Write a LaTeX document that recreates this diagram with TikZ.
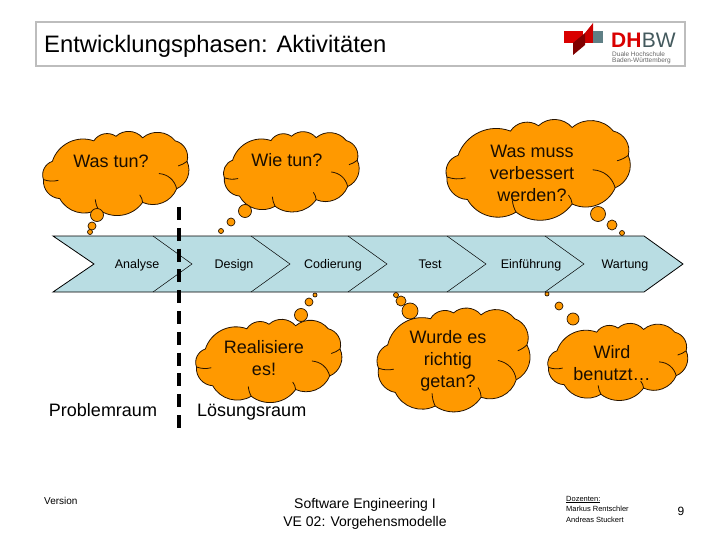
\documentclass[tikz,border=0pt]{standalone}
\usepackage{fontspec}
\setmainfont{Liberation Sans}
\definecolor{cloudfill}{HTML}{FF9900}
\definecolor{bandfill}{HTML}{B9DDE3}
\definecolor{framegray}{HTML}{BDBDBD}
\definecolor{logogray}{HTML}{5F7F85}
\newcommand{\thoughtcloud}[4]{%
    % x, y, width, height in pixels
    \begin{scope}[shift={(#1,#2)},x=#3pt/100,y=-#4pt/100]
        \draw[cloudline, fill=cloudfill]
            (7,36) to[bulge] (35,9) to[bulge] (50,3) to[bulge] (68,5) to[bulge] (90,9)
            to[bulge] (98,36) to[bulge] (91,72) to[bulge] (68,90) to[bulge] (38,99)
            to[bulge] (12,85) to[bulge] (1,60) to[bulge] cycle;
        \draw[cloudline] (1,60) to[bend right=15] (11,61);
        \draw[cloudline] (98,36) to[bend left=10] (92,42);
        \draw[cloudline] (79,52) to[bend left=35] (91,72);
        \draw[cloudline] (68,90) to[bend right=15] (66,80);
        \draw[cloudline] (38,99) to[bend left=10] (36,86);
    \end{scope}}
\begin{document}
\begin{tikzpicture}[
        x=1pt, y=-1pt,
        cloudline/.style={draw=black!85!orange, line width=0.8pt},
        bulge/.style={bend left=46},
        bubble/.style={circle, draw=black!85!orange, line width=0.7pt, fill=cloudfill, inner sep=0pt, minimum size=#1},
        cloudtext/.style={align=center, font=\fontsize{18}{22}\selectfont, text=black!90!orange},
        phase/.style={anchor=base, font=\fontsize{12.5}{14}\selectfont},
        plain/.style={anchor=base, inner sep=0pt, font=\fontsize{18}{20}\selectfont}
    ]
    \useasboundingbox (0,0) rectangle (720,540);
    \fill[white] (0,0) rectangle (720,540);

    % title frame and logo
    \draw[framegray, line width=1.6pt] (36,22) rectangle (685,66);
    \node[anchor=west, inner sep=0pt, font=\fontsize{23.8}{28}\selectfont] (title) at (44,46) {Entwicklungsphasen: Aktivitäten};
    \fill[red!85!black] (564,31) rectangle (583,43);
    \fill[red!80!black] (585,33) -- (593,23) -- (593,43) -- (585,43) -- cycle;
    \fill[logogray] (593,31) rectangle (603,43);
    \fill[red!50!black] (573,43) -- (573,55) -- (585,45) -- (585,33) -- (573,43) -- cycle;
    \node[anchor=west, inner sep=0pt, font=\fontsize{21}{22}\selectfont\bfseries, text=red!85!black] (logod) at (611,40) {DH};
    \node[anchor=west, inner sep=0pt, font=\fontsize{21}{22}\selectfont, text=logogray!70!black] (logob) at (logod.east) {BW};
    \node[anchor=west, inner sep=0pt, font=\fontsize{6.5}{7}\selectfont, text=black!60] (logoa) at (612,54) {Duale Hochschule};
    \node[anchor=west, inner sep=0pt, font=\fontsize{6.5}{7}\selectfont, text=black!60] (logoc) at (612,61) {Baden-Württemberg};

    % process band
    \fill[bandfill] (53,236) -- (644,236) -- (683,264) -- (644,292) -- (53,292) -- (94,264) -- cycle;
    \draw[line width=0.8pt] (94,264) -- (53,236) -- (644,236) -- (683,264) -- (644,292) -- (53,292) -- cycle;
    \foreach \i in {153,251,348,447,545} {
        \draw[line width=0.5pt] (\i,236) -- ++(39,28) -- ++(-39,28);
    }
    \node[phase] (analyse) at (137,268) {Analyse};
    \node[phase] (design) at (234,268) {Design};
    \node[phase] (codierung) at (333,268) {Codierung};
    \node[phase] (test) at (430,268) {Test};
    \node[phase] (einfuehrung) at (531,268) {Einführung};
    \node[phase] (wartung) at (625,268) {Wartung};

    % divider
    \coordinate (divtop) at (179,207);
    \coordinate (divbottom) at (179,428);
    \draw[line width=3.8pt, dash pattern=on 13pt off 7.8pt] (divtop) -- (divbottom);

    % clouds
    \thoughtcloud{42}{134}{148}{76}
    \thoughtcloud{223}{134}{137}{73}
    \thoughtcloud{445}{123}{187}{90}
    \thoughtcloud{195}{322}{148}{75}
    \thoughtcloud{377}{310}{153}{97}
    \thoughtcloud{547}{326}{142}{69}
    \node[cloudtext] (wastun) at (111,161) {Was tun?};
    \node[cloudtext] (wietun) at (287,160) {Wie tun?};
    \node[cloudtext] (wasmuss) at (532,173) {Was muss\\verbessert\\werden?};
    \node[cloudtext] (realisiere) at (264,358) {Realisiere\\es!};
    \node[cloudtext] (wurde) at (448,361) {Wurde es\\richtig\\getan?};
    \node[cloudtext] (wird) at (612,363) {Wird\\benutzt…};

    % bubbles
    \node[bubble=13pt] (a1) at (97,215) {};
    \node[bubble=8pt] (a2) at (92,226) {};
    \node[bubble=5pt] (a3) at (90,232) {};
    \node[bubble=13pt] (b1) at (245,211) {};
    \node[bubble=8pt] (b2) at (231,222) {};
    \node[bubble=5pt] (b3) at (221,231) {};
    \node[bubble=15pt] (c1) at (598,214) {};
    \node[bubble=10pt] (c2) at (612,225) {};
    \node[bubble=5pt] (c3) at (622,233) {};
    \node[bubble=13pt] (d1) at (301,315) {};
    \node[bubble=8pt] (d2) at (309,302) {};
    \node[bubble=4pt] (d3) at (315,295) {};
    \node[bubble=16pt] (e1) at (410,311) {};
    \node[bubble=10pt] (e2) at (401,301) {};
    \node[bubble=5pt] (e3) at (396,295) {};
    \node[bubble=12pt] (f1) at (573,319) {};
    \node[bubble=8pt] (f2) at (559,306) {};
    \node[bubble=4pt] (f3) at (547,294) {};

    % footer
    \node[plain] (problem) at (103,416) {Problemraum};
    \node[plain, anchor=base west] (loesung) at (197,416) {Lösungsraum};
    \node[anchor=west, inner sep=0pt, font=\fontsize{10}{11}\selectfont] (version) at (44,501) {Version};
    \node[align=center, font=\fontsize{14}{18}\selectfont] (course) at (365,514) {Software Engineering I\\VE 02: Vorgehensmodelle};
    \node[anchor=west, align=left, inner sep=0pt, font=\fontsize{7.5}{10.5}\selectfont] (dozenten) at (566,509) {\underline{Dozenten:}\\Markus Rentschler\\Andreas Stuckert};
    \node[font=\fontsize{12}{14}\selectfont] (page) at (681,511) {9};
\end{tikzpicture}
\end{document}
